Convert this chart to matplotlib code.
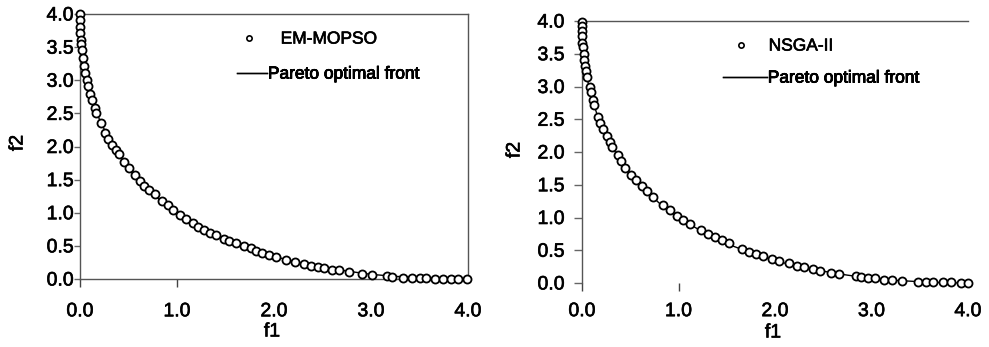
import numpy as np
import matplotlib
matplotlib.use("Agg")
import matplotlib.pyplot as plt
import matplotlib.patheffects as pe
from matplotlib.lines import Line2D

plt.rcParams['font.family'] = ['Liberation Sans', 'DejaVu Sans']

# EM-MOPSO solutions
em_f1 = [0.00, 0.00, 0.001, 0.003, 0.01, 0.013, 0.02, 0.03, 0.04, 0.055, 0.07, 0.08,
         0.10, 0.12, 0.15, 0.17, 0.215, 0.26, 0.29, 0.33, 0.37, 0.40, 0.45, 0.51,
         0.57, 0.62, 0.66, 0.71, 0.77, 0.85, 0.91, 0.96, 1.03, 1.09, 1.16, 1.22,
         1.28, 1.34, 1.40, 1.48, 1.54, 1.61, 1.69, 1.76, 1.81, 1.88, 1.95, 2.02,
         2.12, 2.22, 2.31, 2.38, 2.45, 2.52, 2.60, 2.67, 2.77, 2.91, 3.01, 3.16,
         3.22, 3.33, 3.42, 3.50, 3.57, 3.66, 3.74, 3.82, 3.90, 3.99]
em_f2 = [4.00, 3.91, 3.81, 3.71, 3.61, 3.54, 3.46, 3.34, 3.22, 3.11, 3.01, 2.91,
         2.80, 2.70, 2.58, 2.50, 2.35, 2.21, 2.12, 2.03, 1.95, 1.88, 1.77, 1.67,
         1.57, 1.48, 1.41, 1.34, 1.28, 1.17, 1.11, 1.04, 0.97, 0.90, 0.84, 0.79,
         0.74, 0.70, 0.66, 0.61, 0.58, 0.55, 0.50, 0.47, 0.43, 0.39, 0.36, 0.33,
         0.29, 0.26, 0.22, 0.20, 0.18, 0.16, 0.14, 0.13, 0.11, 0.08, 0.06, 0.04,
         0.03, 0.02, 0.01, 0.01, 0.01, 0.00, 0.00, 0.00, 0.00, 0.00]

# NSGA-II solutions
ns_f1 = [0.00, 0.00, 0.00, 0.003, 0.005, 0.01, 0.02, 0.025, 0.035, 0.04, 0.055, 0.08,
         0.09, 0.11, 0.125, 0.17, 0.19, 0.22, 0.26, 0.29, 0.31, 0.37, 0.40, 0.45,
         0.51, 0.56, 0.62, 0.67, 0.74, 0.84, 0.91, 0.98, 1.05, 1.12, 1.23, 1.31,
         1.38, 1.45, 1.52, 1.66, 1.73, 1.80, 1.88, 1.97, 2.04, 2.14, 2.23, 2.30,
         2.39, 2.47, 2.58, 2.66, 2.84, 2.89, 2.96, 3.04, 3.13, 3.21, 3.32, 3.48,
         3.56, 3.64, 3.74, 3.82, 3.93, 4.00]
ns_f2 = [3.99, 3.92, 3.84, 3.77, 3.67, 3.60, 3.50, 3.40, 3.32, 3.23, 3.14, 3.00,
         2.92, 2.80, 2.72, 2.54, 2.45, 2.35, 2.24, 2.15, 2.08, 1.95, 1.86, 1.76,
         1.65, 1.57, 1.48, 1.40, 1.31, 1.19, 1.11, 1.03, 0.96, 0.90, 0.81, 0.75,
         0.70, 0.65, 0.61, 0.52, 0.48, 0.45, 0.41, 0.37, 0.34, 0.30, 0.26, 0.24,
         0.21, 0.18, 0.15, 0.13, 0.10, 0.09, 0.08, 0.07, 0.05, 0.05, 0.03, 0.02,
         0.02, 0.01, 0.01, 0.01, 0.00, 0.00]

# Pareto optimal front
front_f1 = [0.0, 0.002, 0.005, 0.01, 0.03, 0.06, 0.10, 0.15, 0.20, 0.30, 0.40, 0.50,
            0.60, 0.80, 1.00, 1.25, 1.50, 1.75, 2.00, 2.25, 2.50, 2.75, 3.00, 3.25,
            3.50, 3.75, 4.00]
front_f2 = [4.00, 3.82, 3.72, 3.61, 3.34, 3.08, 2.84, 2.60, 2.41, 2.11, 1.87, 1.67,
            1.50, 1.22, 1.00, 0.78, 0.60, 0.46, 0.34, 0.25, 0.18, 0.12, 0.07, 0.04,
            0.02, 0.004, 0.00]

ticks = [0.0, 0.5, 1.0, 1.5, 2.0, 2.5, 3.0, 3.5, 4.0]
xticks = [0.0, 1.0, 2.0, 3.0, 4.0]

W, H = 989, 347
fig = plt.figure(figsize=(W / 100, H / 100), dpi=100)
heavy = [pe.withStroke(linewidth=0.45, foreground='black')]


def px_axes(x0, x1, ytop, ybot):
    return fig.add_axes([x0 / W, 1 - ybot / H, (x1 - x0) / W, (ybot - ytop) / H])


def draw_panel(ax, f1, f2, xpad, ypad, ylen):
    ax.plot(front_f1, front_f2, color='black', lw=1.0, zorder=2, clip_on=False)
    ax.plot(f1, f2, ls='none', marker='o', ms=5.8, mfc='white', mec='black',
            mew=1.3, zorder=3, clip_on=False)
    ax.set_xlim(0, 4)
    ax.set_ylim(0, 4)
    ax.set_xticks(xticks)
    ax.set_yticks(ticks)
    ax.set_xticklabels(['%.1f' % t for t in xticks])
    ax.set_yticklabels(['%.1f' % t for t in ticks])
    ax.tick_params(axis='x', direction='out', length=6, width=1, color='#444',
                   pad=xpad, labelsize=14)
    ax.tick_params(axis='y', direction='out', length=ylen, width=1, color='#666',
                   pad=ypad, labelsize=14)
    for lab in ax.get_xticklabels() + ax.get_yticklabels():
        lab.set_path_effects(heavy)
    # only the first two x ticks are marked in the original
    for tk in ax.xaxis.get_major_ticks()[2:]:
        tk.tick1line.set_visible(False)
    for s in ax.spines.values():
        s.set_color('#555')
        s.set_linewidth(1.0)


ax1 = px_axes(80, 468, 14, 279)
draw_panel(ax1, em_f1, em_f2, 11.5, 0.5, 4)

ax2 = px_axes(582, 968, 21, 283)
draw_panel(ax2, ns_f1, ns_f2, 8.5, 6.5, 6)
ax2.spines['right'].set_visible(False)
ax2.spines['bottom'].set_visible(False)

for x, y, s, rot in [(272, 332, 'f1', 0), (773, 333, 'f1', 0),
                     (18, 143, 'f2', 90), (515, 150, 'f2', 90)]:
    fig.text(x / W, 1 - y / H, s, ha='center', va='center', fontsize=14,
             rotation=rot, path_effects=heavy)


def legend_row(ax, handle, label, x_left, y, hlen, tpad):
    leg = ax.legend([handle], [label], loc='center left',
                    bbox_to_anchor=(x_left / W, 1 - y / H),
                    bbox_transform=fig.transFigure, frameon=False, fontsize=12.5,
                    borderpad=0, borderaxespad=0, handlelength=hlen,
                    handletextpad=tpad)
    for t in leg.get_texts():
        t.set_path_effects(heavy)
    ax.add_artist(leg)


dot = Line2D([], [], ls='none', marker='o', ms=3.8, mfc='white', mec='black', mew=1.2)
line = Line2D([], [], color='black', lw=1.0)

legend_row(ax1, dot, 'EM-MOPSO', 240.7, 39, 1.0, 1.3)
legend_row(ax1, line, 'Pareto optimal front', 237, 74, 1.72, 0.06)
legend_row(ax2, dot, 'NSGA-II', 732.7, 46, 1.0, 1.07)
legend_row(ax2, line, 'Pareto optimal front', 723, 78, 2.52, 0.06)

fig.savefig('out.png', dpi=100)
